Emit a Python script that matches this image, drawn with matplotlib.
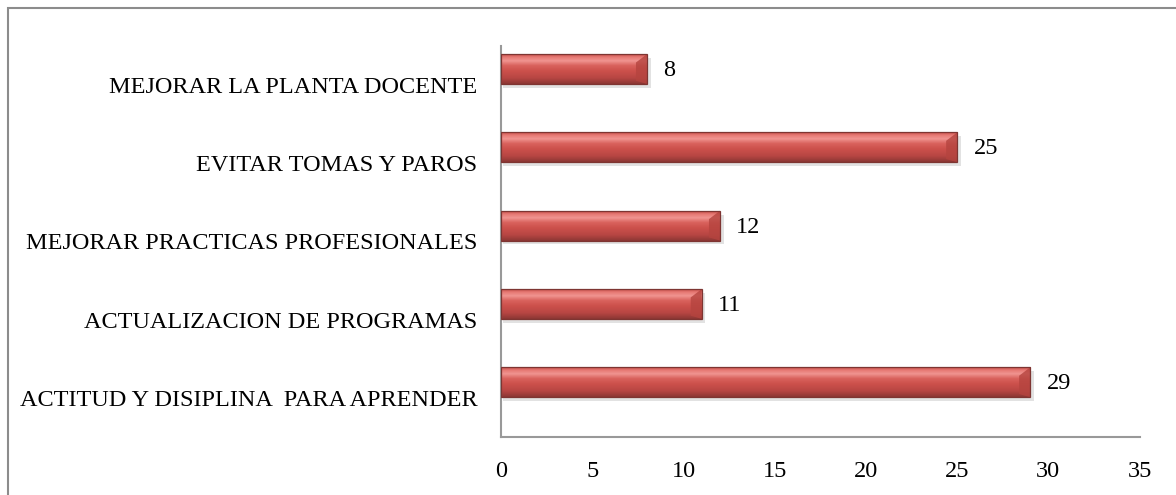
import matplotlib.pyplot as plt
import numpy as np
from matplotlib.colors import LinearSegmentedColormap
from matplotlib.patches import Rectangle, Polygon

categories = ["ACTITUD Y DISIPLINA  PARA APRENDER",
              "ACTUALIZACION DE PROGRAMAS",
              "MEJORAR PRACTICAS PROFESIONALES",
              "EVITAR TOMAS Y PAROS",
              "MEJORAR LA PLANTA DOCENTE"]
values = [29, 11, 12, 25, 8]
x_ticks = [0, 5, 10, 15, 20, 25, 30, 35]

plt.rcParams['font.family'] = ['Liberation Serif', 'DejaVu Serif']

fig = plt.figure(figsize=(11.76, 4.95), dpi=100)
ax = fig.add_axes([0.426, 0.117, 0.543, 0.791])

# outer chart border, cut off at right and bottom like the original
fig.patches.append(Rectangle((8 / 1176, -0.05), 1.2, 1 - 8 / 495 + 0.05,
                             transform=fig.transFigure, fill=False,
                             edgecolor='#8c8c8c', linewidth=1.5))

# red glossy gradient for bars (bottom -> top)
cmap = LinearSegmentedColormap.from_list(
    'glossy', [(0.0, '#8c3734'), (0.2, '#b84643'), (0.45, '#cd514c'),
               (0.62, '#d9625d'), (0.78, '#f09490'), (0.9, '#e77a75'), (1.0, '#c8524d')])
grad = np.linspace(0, 1, 64).reshape(-1, 1)

h = 0.38
shift = 0.2   # bars sit a bit above the category centre (3-D look)
pos = np.arange(len(categories))
for i, v in zip(pos, values):
    y0 = i + shift - h / 2
    # soft shadow
    ax.add_patch(Rectangle((0.1, y0 - 0.05), v + 0.1, h, facecolor='#cfcfcf',
                           edgecolor='none', alpha=0.6, zorder=1))
    ax.imshow(grad, cmap=cmap, aspect='auto', origin='lower',
              extent=[0, v, y0, y0 + h], zorder=2)
    # bevelled end cap
    ax.add_patch(Polygon([(v - 0.6, y0 + h * 0.72), (v, y0 + h), (v, y0), (v - 0.6, y0 + 0.04)],
                         closed=True, facecolor='#b5443f', edgecolor='none', alpha=0.8, zorder=3))
    ax.add_patch(Rectangle((0, y0), v, h, fill=False,
                           edgecolor='#7e3532', linewidth=0.9, zorder=4))
    ax.text(v + 0.9, i + shift - 0.02, str(v), fontsize=17.5, va='center', ha='left')

ax.set_xlim(0, 35)
ax.set_ylim(-0.5, len(categories) - 0.5)
ax.set_xticks(x_ticks)
ax.set_yticks(pos)
ax.set_yticklabels(categories)
ax.tick_params(axis='both', length=0, labelsize=17.5)
ax.tick_params(axis='x', pad=17)
ax.tick_params(axis='y', pad=17)
for s in ['top', 'right']:
    ax.spines[s].set_visible(False)
for s in ['left', 'bottom']:
    ax.spines[s].set_color('#999999')
    ax.spines[s].set_linewidth(1.5)

fig.savefig('out.png', dpi=100)
